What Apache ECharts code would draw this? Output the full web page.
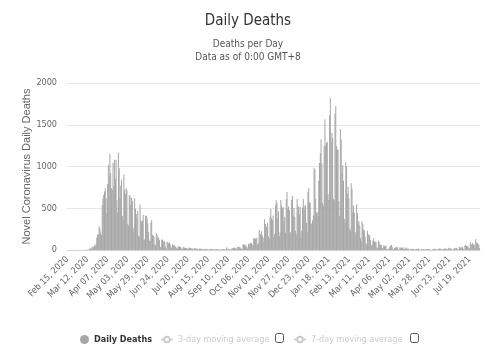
<!DOCTYPE html>
<html>
<head>
<meta charset="utf-8">
<script src="https://cdn.jsdelivr.net/npm/echarts@6/dist/echarts.min.js"></script>
<style>
  html, body { margin: 0; padding: 0; background: #fff; }
  #chart { width: 496px; height: 351px; }
</style>
</head>
<body>
<div id="chart"></div>
<script>
// first day of the series, one bar per day
const startDate = '2020-02-15'

// daily deaths, one row per week (Sat..Fri)
const dailyDeaths = [
    0, 0, 0, 0, 0, 0, 0,
    0, 0, 0, 0, 0, 0, 0,
    0, 0, 0, 0, 0, 1, 1,
    0, 1, 2, 0, 2, 2, 1,
    10, 14, 20, 16, 32, 41, 33,
    56, 48, 74, 149, 186, 183, 284,
    260, 210, 180, 540, 620, 660, 700,
    740, 620, 440, 790, 1020, 880, 1150,
    920, 740, 720, 1045, 760, 1080, 850,
    1080, 600, 450, 1165, 980, 620, 770,
    840, 410, 360, 900, 720, 675, 740,
    720, 315, 290, 660, 650, 540, 626,
    590, 270, 210, 620, 495, 430, 380,
    470, 170, 160, 545, 363, 338, 350,
    420, 120, 130, 410, 410, 380, 320,
    215, 110, 110, 325, 360, 180, 170,
    160, 70, 55, 200, 180, 140, 150,
    120, 40, 40, 130, 120, 100, 110,
    95, 40, 15, 100, 90, 80, 90,
    70, 35, 25, 70, 60, 55, 50,
    40, 20, 15, 45, 40, 38, 35,
    30, 20, 10, 35, 30, 28, 25,
    25, 15, 8, 30, 25, 20, 22,
    20, 12, 7, 25, 20, 18, 15,
    15, 8, 5, 18, 16, 14, 12,
    12, 6, 4, 15, 12, 11, 10,
    10, 5, 3, 13, 11, 9, 8,
    8, 4, 3, 12, 10, 9, 8,
    8, 3, 2, 10, 10, 9, 8,
    12, 2, 3, 32, 8, 14, 6,
    9, 5, 9, 27, 20, 21, 27,
    27, 18, 11, 37, 37, 40, 34,
    17, 17, 13, 71, 59, 66, 59,
    49, 33, 19, 76, 70, 77, 87,
    81, 65, 50, 143, 137, 138, 136,
    150, 67, 80, 241, 191, 189, 224,
    174, 151, 102, 367, 310, 280, 274,
    326, 162, 136, 397, 492, 378, 355,
    413, 156, 194, 532, 595, 563, 376,
    462, 168, 213, 598, 529, 501, 511,
    341, 398, 206, 608, 696, 498, 521,
    479, 215, 205, 603, 648, 414, 504,
    397, 231, 189, 616, 533, 516, 424,
    519, 144, 232, 506, 612, 532, 489,
    534, 326, 215, 691, 744, 570, 570,
    316, 316, 357, 414, 981, 964, 613,
    445, 454, 407, 830, 1041, 1162, 1325,
    1035, 563, 529, 1243, 1564, 1248, 1280,
    1295, 671, 599, 1610, 1820, 1290, 1401,
    1348, 610, 592, 1631, 1725, 1245, 1200,
    1200, 587, 406, 1449, 1322, 915, 1014,
    828, 373, 333, 1052, 1001, 678, 758,
    621, 258, 230, 799, 738, 454, 533,
    445, 215, 178, 548, 442, 323, 345,
    290, 144, 104, 343, 315, 242, 236,
    158, 82, 65, 231, 190, 175, 181,
    121, 52, 64, 110, 141, 95, 101,
    96, 33, 17, 112, 98, 70, 63,
    58, 19, 23, 56, 43, 51, 52,
    10, 10, 9, 20, 45, 53, 60,
    40, 7, 13, 23, 30, 34, 36,
    32, 10, 4, 33, 22, 29, 18,
    32, 17, 11, 17, 29, 18, 15,
    15, 1, 1, 14, 13, 13, 9,
    11, 5, 4, 11, 15, 11, 17,
    7, 4, 5, 9, 7, 12, 10,
    5, 6, 7, 13, 15, 10, 9,
    6, 4, 1, 6, 12, 18, 11,
    13, 4, 5, 6, 8, 19, 17,
    12, 10, 3, 9, 19, 11, 19,
    10, 14, 4, 27, 19, 18, 21,
    11, 3, 4, 23, 18, 21, 23,
    18, 6, 9, 37, 33, 28, 34,
    32, 15, 6, 50, 63, 49, 51,
    41, 25, 19, 96, 73, 63, 84,
    64, 65, 24, 131, 91, 85, 68,
    65, 24
]

const yTicks = [0, 500, 1000, 1500, 2000]
const legendNames = ['Daily Deaths', '3-day moving average', '7-day moving average']
const monthNames = ['Jan', 'Feb', 'Mar', 'Apr', 'May', 'Jun', 'Jul', 'Aug', 'Sep', 'Oct', 'Nov', 'Dec']

// category labels like "Feb 15, 2020"
let days = []
let d = new Date(startDate + 'T00:00:00Z')
for (let i = 0; i < dailyDeaths.length; i++) {
    let dd = String(d.getUTCDate()).padStart(2, '0')
    days.push(monthNames[d.getUTCMonth()] + ' ' + dd + ', ' + d.getUTCFullYear())
    d.setUTCDate(d.getUTCDate() + 1)
}

const narrow = '"DejaVu Sans Condensed", "Liberation Sans Narrow", sans-serif'

let chart = echarts.init(document.getElementById('chart'))
chart.setOption({
    animation: false,
    title: {
        text: 'Daily Deaths',
        subtext: 'Deaths per Day\nData as of 0:00 GMT+8',
        left: 'center',
        top: 9,
        itemGap: 9,
        textStyle: { fontFamily: narrow, fontSize: 15, fontWeight: 'normal', color: '#333' },
        subtextStyle: { fontFamily: narrow, fontSize: 10, color: '#555', lineHeight: 13 }
    },
    legend: [
        {
            data: [{ name: legendNames[0], icon: 'circle' }],
            left: 75, top: 330,
            itemWidth: 9, itemHeight: 9,
            textStyle: { fontFamily: narrow, fontSize: 9, fontWeight: 'bold', color: '#333' }
        },
        {
            data: [legendNames[1]],
            left: 155, top: 330,
            itemWidth: 12, itemHeight: 7,
            inactiveColor: '#ccc',
            selected: { '3-day moving average': false },
            textStyle: { fontFamily: narrow, fontSize: 9 }
        },
        {
            data: [legendNames[2]],
            left: 288, top: 330,
            itemWidth: 12, itemHeight: 7,
            inactiveColor: '#ccc',
            selected: { '7-day moving average': false },
            textStyle: { fontFamily: narrow, fontSize: 9 }
        }
    ],
    graphic: [
        { type: 'rect', left: 275, top: 333, shape: { width: 8, height: 9, r: 2 }, style: { fill: '#fff', stroke: '#555', lineWidth: 1 } },
        { type: 'rect', left: 410, top: 333, shape: { width: 8, height: 9, r: 2 }, style: { fill: '#fff', stroke: '#555', lineWidth: 1 } }
    ],
    grid: {
        left: 67,
        right: 16,
        top: 83,
        bottom: 101
    },
    xAxis: {
        type: 'category',
        data: days,
        axisLine: { lineStyle: { color: '#ccd6eb' } },
        axisTick: { show: false },
        axisLabel: {
            interval: 25,
            rotate: 45,
            margin: 8,
            fontFamily: narrow,
            fontSize: 9,
            color: '#666'
        }
    },
    yAxis: {
        type: 'value',
        min: yTicks[0],
        max: yTicks[yTicks.length - 1],
        interval: 500,
        name: 'Novel Coronavirus Daily Deaths',
        nameLocation: 'middle',
        nameGap: 35,
        nameMoveOverlap: false,
        nameTextStyle: { fontFamily: '"Liberation Sans", sans-serif', fontSize: 11, color: '#666' },
        axisLabel: {
            fontFamily: narrow, fontSize: 9, color: '#666', margin: 10,
            formatter: function (v) { return String(v) }
        },
        splitLine: { lineStyle: { color: '#e6e6e6' } }
    },
    series: [
        {
            name: legendNames[0],
            type: 'bar',
            data: dailyDeaths,
            barCategoryGap: '10%',
            itemStyle: { color: '#a6a6a6' }
        },
        {
            name: legendNames[1],
            type: 'line',
            data: [],
            itemStyle: { color: '#999' }
        },
        {
            name: legendNames[2],
            type: 'line',
            data: [],
            itemStyle: { color: '#999' }
        }
    ]
})
</script>
</body>
</html>
